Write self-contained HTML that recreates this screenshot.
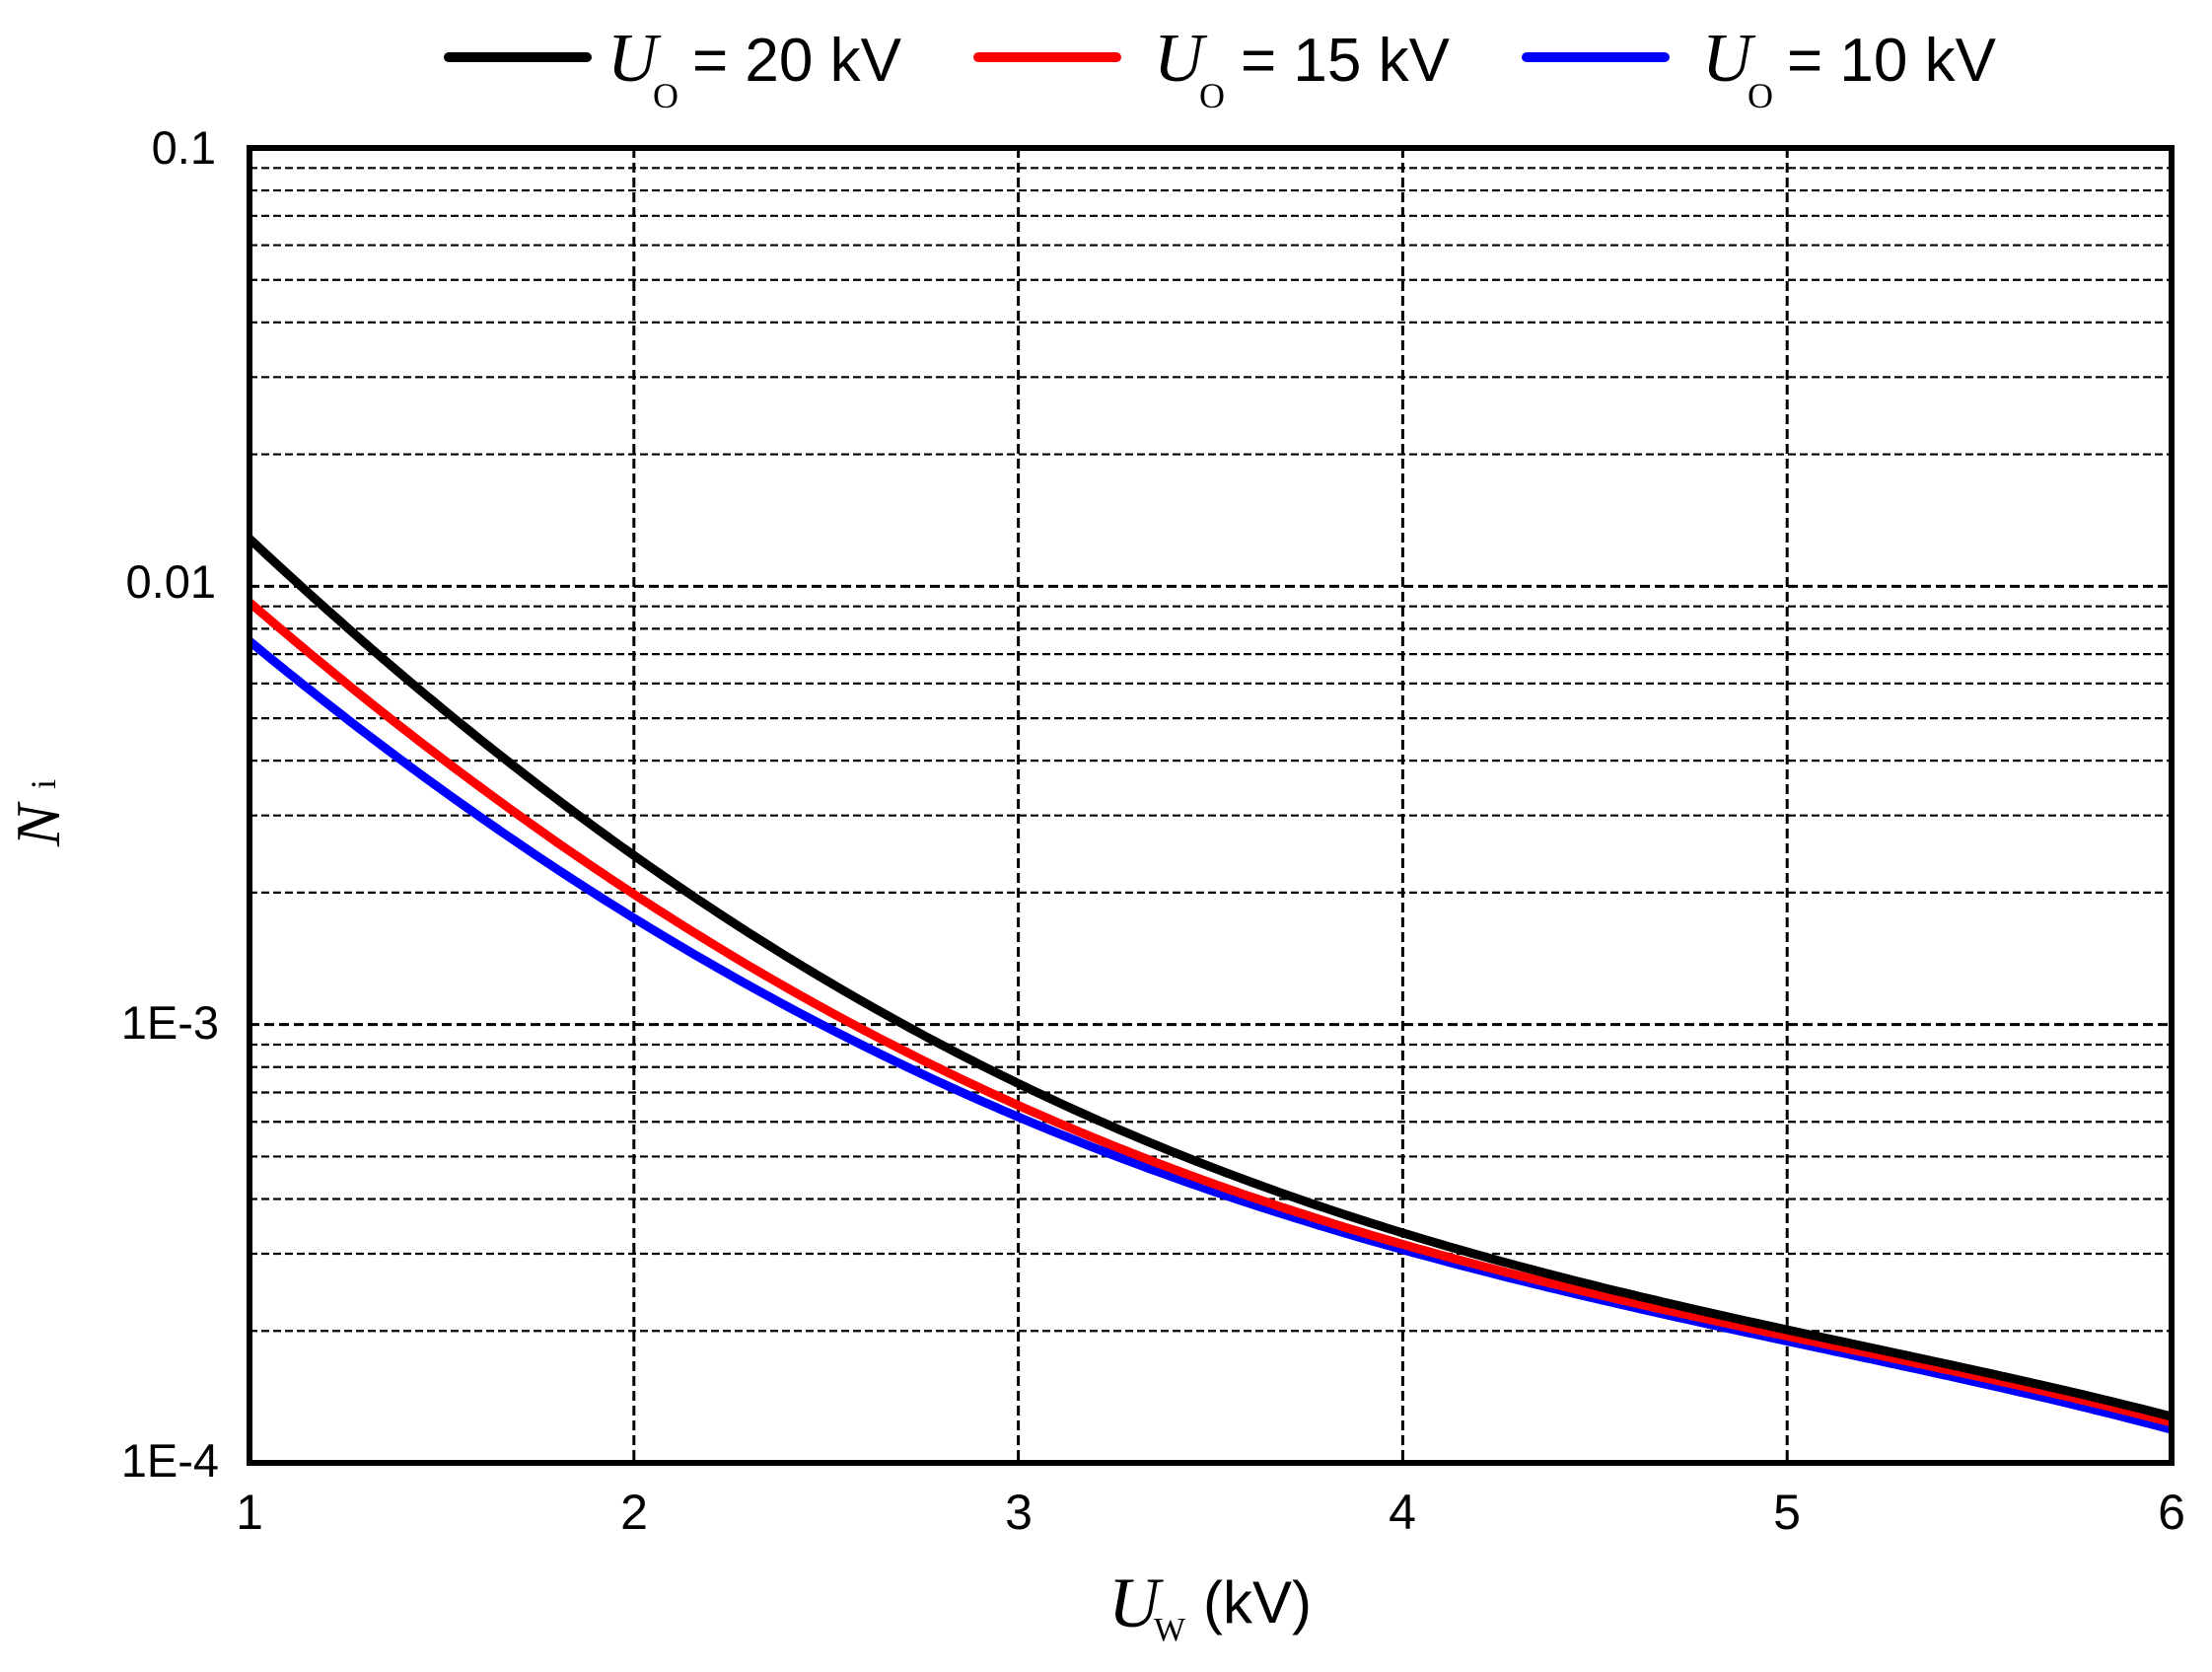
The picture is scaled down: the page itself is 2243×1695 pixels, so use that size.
<!DOCTYPE html>
<html><head><meta charset="utf-8"><style>
html,body{margin:0;padding:0;background:#fff;}
svg{display:block;}
</style></head><body>
<svg id="s" width="2243" height="1695" viewBox="0 0 2243 1695" xmlns="http://www.w3.org/2000/svg">
<rect width="2243" height="1695" fill="#fff"/>
<g id="grid"></g>
<g id="curves" fill="none" stroke-linejoin="round" stroke-width="9"></g>
<rect x="253" y="150" width="1949" height="1333" fill="none" stroke="#000" stroke-width="6"/>
<g font-family="Liberation Sans, sans-serif" font-size="47" fill="#000" text-anchor="end">
<text x="219" y="166">0.1</text>
<text x="219" y="606">0.01</text>
<text x="222" y="1053">1E-3</text>
<text x="222" y="1497">1E-4</text>
</g>
<g font-family="Liberation Sans, sans-serif" font-size="50" fill="#000" text-anchor="middle">
<text x="253" y="1550">1</text><text x="643" y="1550">2</text><text x="1033" y="1550">3</text>
<text x="1422" y="1550">4</text><text x="1812" y="1550">5</text><text x="2202" y="1550">6</text>
</g>
<text x="1124" y="1649" font-family="Liberation Serif, serif" font-style="italic" font-size="72">U</text>
<text x="1170" y="1663" font-family="Liberation Serif, serif" font-size="34">W</text>
<text x="1220" y="1645" font-family="Liberation Sans, sans-serif" font-size="60">(kV)</text>
<g transform="translate(60,858) rotate(-90)">
<text x="0" y="0" font-family="Liberation Serif, serif" font-style="italic" font-size="64">N</text>
<text x="58" y="-4" font-family="Liberation Serif, serif" font-size="36">i</text>
</g>
<g stroke-linecap="round" stroke-width="10">
<line x1="455" y1="58" x2="595" y2="58" stroke="#000"/>
<line x1="992" y1="58" x2="1132" y2="58" stroke="#f00"/>
<line x1="1548" y1="58" x2="1688" y2="58" stroke="#00f"/>
</g>
<g fill="#000">
<text x="616" y="82" font-family="Liberation Serif, serif" font-style="italic" font-size="70">U</text>
<text x="662" y="109" font-family="Liberation Serif, serif" font-size="36">O</text>
<text x="702" y="82" font-family="Liberation Sans, sans-serif" font-size="62">= 20 kV</text>
<text x="1170" y="82" font-family="Liberation Serif, serif" font-style="italic" font-size="70">U</text>
<text x="1216" y="109" font-family="Liberation Serif, serif" font-size="36">O</text>
<text x="1258" y="82" font-family="Liberation Sans, sans-serif" font-size="62">= 15 kV</text>
<text x="1726" y="82" font-family="Liberation Serif, serif" font-style="italic" font-size="70">U</text>
<text x="1772" y="109" font-family="Liberation Serif, serif" font-size="36">O</text>
<text x="1812" y="82" font-family="Liberation Sans, sans-serif" font-size="62">= 10 kV</text>
</g>
</svg>
<script>
(function(){
var L=253,R=2202,T=150,B=1483,dec=(B-T)/3,ux=(R-L)/5;
function X(v){return L+(v-1)*ux;}
function Y(lg){return T+(-1-lg)*dec;}
var g=document.getElementById('grid'),h='';
for(var d=0;d<3;d++){for(var m=1;m<=9;m++){
 var lg=(-2-d)+Math.log10(m);
 if(m==1){lg=-1-d; if(d==0) continue;}
 var y=Y(lg),major=(m==1);
 h+='<line x1="'+L+'" x2="'+R+'" y1="'+y+'" y2="'+y+'" stroke="#000" stroke-width="'+(major?3:2.2)+'" stroke-dasharray="'+(major?'10 5':'8 4')+'"/>';
}}
for(var k=2;k<=5;k++){var x=X(k);h+='<line x1="'+x+'" x2="'+x+'" y1="'+T+'" y2="'+B+'" stroke="#000" stroke-width="3" stroke-dasharray="10 5"/>';}
g.innerHTML=h;
var xs=[1,1.5,2,2.5,3,3.5,4,4.5,5,5.5,6];
var data=[
 ['#00f',[-2.132,-2.449,-2.758,-3.013,-3.224,-3.367,-3.508,-3.621,-3.727,-3.823,-3.920]],
 ['#f00',[-2.042,-2.382,-2.700,-2.974,-3.195,-3.354,-3.495,-3.611,-3.714,-3.810,-3.904]],
 ['#000',[-1.893,-2.276,-2.616,-2.884,-3.160,-3.318,-3.469,-3.592,-3.698,-3.797,-3.891]]
];
function fit(ys,deg){
 var n=deg+1,A=[],b=[];
 for(var i=0;i<n;i++){A.push(new Array(n).fill(0));b.push(0);}
 for(var k=0;k<xs.length;k++){var u=xs[k]-3.5;
  for(var i=0;i<n;i++){b[i]+=Math.pow(u,i)*ys[k];for(var j=0;j<n;j++)A[i][j]+=Math.pow(u,i+j);}}
 for(var i=0;i<n;i++){var p=i;for(var r=i+1;r<n;r++)if(Math.abs(A[r][i])>Math.abs(A[p][i]))p=r;
  var t=A[i];A[i]=A[p];A[p]=t;t=b[i];b[i]=b[p];b[p]=t;
  for(var r=i+1;r<n;r++){var f=A[r][i]/A[i][i];for(var j=i;j<n;j++)A[r][j]-=f*A[i][j];b[r]-=f*b[i];}}
 var c=new Array(n).fill(0);
 for(var i=n-1;i>=0;i--){var s=b[i];for(var j=i+1;j<n;j++)s-=A[i][j]*c[j];c[i]=s/A[i][i];}
 return function(x){var u=x-3.5,v=0;for(var i=0;i<n;i++)v+=c[i]*Math.pow(u,i);return v;};
}
var c=document.getElementById('curves'),s='';
data.forEach(function(dd){
 var f=fit(dd[1],4),pts=[];
 for(var x=1;x<=6.0001;x+=0.02)pts.push(X(x).toFixed(1)+','+Y(f(x)).toFixed(1));
 s+='<polyline stroke="'+dd[0]+'" points="'+pts.join(' ')+'"/>';
});
c.innerHTML=s;
})();
</script>
</body></html>
